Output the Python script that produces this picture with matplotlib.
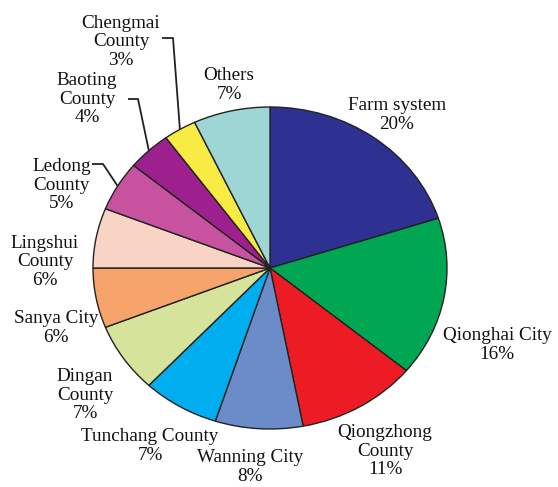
import numpy as np
import matplotlib
matplotlib.use("Agg")
import matplotlib.pyplot as plt

categories = ["Farm system", "Qionghai City", "Qiongzhong\nCounty", "Wanning City",
              "Tunchang County", "Dingan\nCounty", "Sanya City", "Lingshui\nCounty",
              "Ledong\nCounty", "Baoting\nCounty", "Chengmai\nCounty", "Others"]
values = [20, 16, 11, 8, 7, 7, 6, 6, 5, 4, 3, 7]
colors = ["#2e3192", "#00a651", "#ed1c24", "#6b8cc8", "#00aeef", "#d6e39a",
          "#f6a36c", "#f9d3c3", "#c7529f", "#9e1f8e", "#f7eb44", "#9ed5d5"]

# layout (pixel positions in the 558x487 canvas, origin top-left)
W, H = 558, 487
CX, CY, RX, RY = 270, 268, 177, 161
label_px = [(397, 115), (497, 345), (385, 451), (250, 467), (150, 446), (85, 395),
            (56, 328), (45, 262), (62, 185), (87, 99), (121, 42), (229, 85)]
leaders = {10: [(173, 38), (162, 38)], 9: [(138, 99), (128, 99)], 8: [(103, 164), (92, 164)]}

def p2d(px, py):
    return (px - CX) / RX, (CY - py) / RY

fig = plt.figure(figsize=(W / 100, H / 100), dpi=100)
ax = fig.add_axes([0, 0, 1, 1])
wedges, _ = ax.pie(values, colors=colors, startangle=90, counterclock=False, radius=1,
                   wedgeprops=dict(edgecolor="#222222", linewidth=1.0))
ax.set_aspect("auto")
ax.set_xlim(-CX / RX, (W - CX) / RX)
ax.set_ylim(-(H - CY) / RY, CY / RY)
ax.axis("off")

font = dict(family="Liberation Serif", size=13.8)
total = sum(values)
cum = np.cumsum([0] + values)
for i, (cat, v) in enumerate(zip(categories, values)):
    x, y = p2d(*label_px[i])
    ax.text(x, y, f"{cat}\n{v}%", ha="center", va="center", multialignment="center",
            linespacing=1.12, color="#111111", **font)
    if i in leaders:
        mid = (cum[i] + v / 2) / total * 2 * np.pi
        sx, sy = np.sin(mid) * 1.0, np.cos(mid) * 1.0
        pts = [(sx, sy)] + [p2d(*p) for p in leaders[i]]
        ax.plot([p[0] for p in pts], [p[1] for p in pts], color="#222222", lw=1.3,
                solid_capstyle="butt")

fig.savefig("out.png", dpi=100)
